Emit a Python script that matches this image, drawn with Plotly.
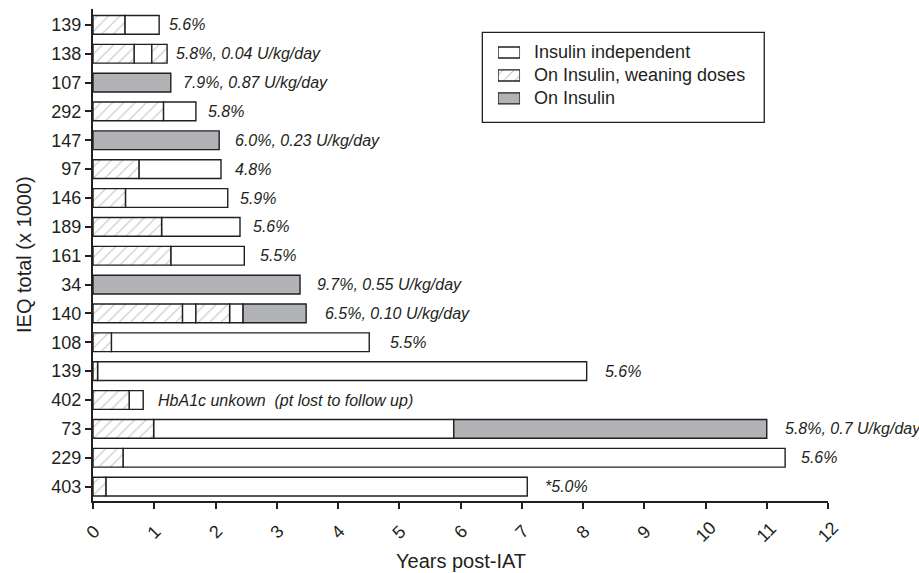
import plotly.graph_objects as go

# ---------------- data ----------------
ieq_labels = ["139", "138", "107", "292", "147", "97", "146", "189", "161",
              "34", "140", "108", "139", "402", "73", "229", "403"]

# state codes: W = on insulin (weaning doses), I = insulin independent, O = on insulin
seg_states = [
    ["W", "I"],
    ["W", "I", "W"],
    ["O"],
    ["W", "I"],
    ["O"],
    ["W", "I"],
    ["W", "I"],
    ["W", "I"],
    ["W", "I"],
    ["O"],
    ["W", "I", "W", "I", "O"],
    ["W", "I"],
    ["W", "I"],
    ["W", "I"],
    ["W", "I", "O"],
    ["W", "I"],
    ["W", "I"],
]
seg_ends = [
    [0.52, 1.08],
    [0.67, 0.96, 1.21],
    [1.27],
    [1.15, 1.68],
    [2.06],
    [0.75, 2.09],
    [0.53, 2.20],
    [1.12, 2.40],
    [1.27, 2.47],
    [3.38],
    [1.46, 1.68, 2.23, 2.45, 3.48],
    [0.30, 4.51],
    [0.075, 8.06],
    [0.59, 0.82],
    [0.99, 5.89, 11.0],
    [0.49, 11.30],
    [0.21, 7.09],
]
notes = ["5.6%", "5.8%, 0.04 U/kg/day", "7.9%, 0.87 U/kg/day", "5.8%",
         "6.0%, 0.23 U/kg/day", "4.8%", "5.9%", "5.6%", "5.5%",
         "9.7%, 0.55 U/kg/day", "6.5%, 0.10 U/kg/day", "5.5%", "5.6%",
         "HbA1c unkown \u00a0(pt lost to follow up)", "5.8%, 0.7 U/kg/day",
         "5.6%", "*5.0%"]
note_x = [1.21, 1.33, 1.43, 1.85, 2.28, 2.28, 2.36, 2.58, 2.70, 3.63, 3.75,
          4.82, 8.32, 1.03, 11.26, 11.52, 7.34]
x_ticks = list(range(0, 13))
x_tick_labels = [str(v) for v in x_ticks]

legend_order = ["I", "W", "O"]
state_names = {"I": "Insulin independent",
               "W": "On Insulin, weaning doses",
               "O": "On Insulin"}

# ---------------- styles ----------------
INK = "#231f20"
GRAY = "#b2b3b6"
FONT = "Liberation Sans, Arial, sans-serif"


def marker_for(code):
    m = dict(line=dict(color=INK, width=1.4))
    if code == "O":
        m["color"] = GRAY
    else:
        m["color"] = "white"
    if code == "W":
        m["pattern"] = dict(shape="/", fgcolor="#9c9c9c", bgcolor="white",
                            size=8, solidity=0.16)
    return m


fig = go.Figure()

for code in legend_order:
    ys, bases, lens = [], [], []
    for r, (sts, ends) in enumerate(zip(seg_states, seg_ends)):
        start = 0.0
        for s, e in zip(sts, ends):
            if s == code:
                ys.append(r)
                bases.append(start)
                lens.append(e - start)
            start = e
    fig.add_trace(go.Bar(y=ys, x=lens, base=bases, orientation="h",
                         width=0.65, marker=marker_for(code),
                         name=state_names[code], showlegend=False))

# legend swatches drawn as bars on an inset axis
for i, code in enumerate(legend_order):
    fig.add_trace(go.Bar(y=[i], x=[1], orientation="h", width=0.48,
                         marker=marker_for(code), xaxis="x2", yaxis="y2",
                         showlegend=False, hoverinfo="skip"))

annotations = []
for r, (t, xv) in enumerate(zip(notes, note_x)):
    annotations.append(dict(x=xv, y=r, xref="x", yref="y", text="<i>" + t + "</i>",
                            showarrow=False, xanchor="left", yanchor="middle",
                            font=dict(size=16, color=INK, family=FONT)))
for v, lab in zip(x_ticks, x_tick_labels):
    annotations.append(dict(x=v, y=0, xref="x", yref="paper", text=lab,
                            showarrow=False, xanchor="center", yanchor="middle",
                            yshift=-31, textangle=-45,
                            font=dict(size=18, color=INK, family=FONT)))
for i, code in enumerate(legend_order):
    annotations.append(dict(x=0.597, y=i, xref="paper", yref="y2",
                            text=state_names[code], showarrow=False,
                            xanchor="left", yanchor="middle",
                            font=dict(size=18, color=INK, family=FONT)))
annotations.append(dict(x=0.5, y=0, xref="paper", yref="paper", text="Years post-IAT",
                        showarrow=False, xanchor="center", yanchor="middle",
                        yshift=-60, font=dict(size=20, color=INK, family=FONT)))
annotations.append(dict(x=0, y=0.5, xref="paper", yref="paper", text="IEQ total (x 1000)",
                        showarrow=False, xanchor="center", yanchor="middle",
                        xshift=-69, textangle=-90,
                        font=dict(size=20, color=INK, family=FONT)))

fig.update_layout(
    width=919, height=573,
    margin=dict(l=93, r=91, t=9, b=72),
    paper_bgcolor="white", plot_bgcolor="white",
    barmode="overlay",
    font=dict(family=FONT, color=INK),
    showlegend=False,
    xaxis=dict(range=[0, 12], tickvals=x_ticks, showticklabels=False,
               ticks="outside", ticklen=6, tickwidth=1.5, tickcolor=INK,
               showline=True, linecolor=INK, linewidth=2, showgrid=False,
               zeroline=False, fixedrange=True),
    yaxis=dict(range=[16.5, -0.55], tickvals=list(range(len(ieq_labels))),
               ticktext=ieq_labels, ticks="outside", ticklen=6, tickwidth=1.5,
               tickcolor=INK, tickfont=dict(size=18, color=INK, family=FONT),
               showline=True, linecolor=INK, linewidth=2, showgrid=False,
               zeroline=False, fixedrange=True),
    xaxis2=dict(domain=[0.551, 0.581], range=[0, 1], anchor="y2", visible=False,
                fixedrange=True),
    yaxis2=dict(domain=[0.795, 0.935], range=[2.5, -0.5], anchor="x2", visible=False,
                fixedrange=True),
    shapes=[dict(type="rect", xref="paper", yref="paper",
                 x0=0.5297, x1=0.9133, y0=0.7697, y1=0.9526,
                 line=dict(color=INK, width=1.3), fillcolor="rgba(0,0,0,0)",
                 layer="below")],
    annotations=annotations,
)

fig.write_html("out.html", config={"displayModeBar": False},
               post_script="document.body.style.margin='0px';document.body.style.padding='0px';")
